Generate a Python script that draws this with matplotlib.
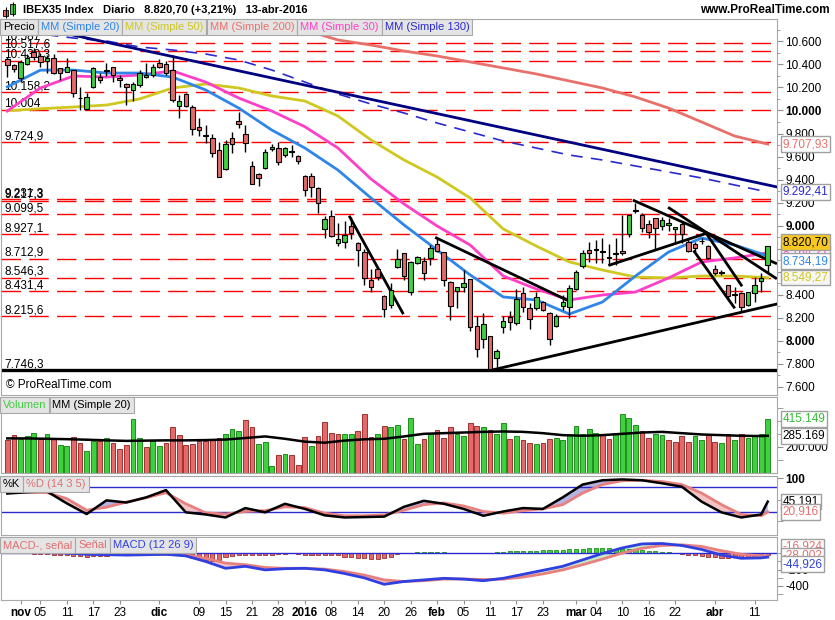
import matplotlib
matplotlib.use("Agg")
import matplotlib.pyplot as plt
import numpy as np

# ---- price data, one bar per trading day, 29-oct-2015 .. 13-abr-2016
opens = [10450, 10395, 10280, 10403, 10511, 10473, 10432, 10453, 10366, 10337,
         10351, 10110, 10010, 10206, 10293, 10345, 10380, 10279, 10227, 10178,
         10221, 10293, 10308, 10409, 10404, 10351, 10041, 10143, 10027, 9857,
         9785, 9764, 9657, 9492, 9758, 9909, 9796, 9518, 9446, 9503,
         9663, 9671, 9613, 9645, 9605, 9431, 9431, 9324, 8968, 9087,
         8847, 8861, 8997, 8847, 8769, 8528, 8621, 8390, 8311, 8639,
         8760, 8427, 8673, 8694, 8717, 8844, 8769, 8508, 8433, 8470,
         8537, 8129, 8014, 8042, 7849, 8124, 8210, 8158, 8413, 8282,
         8283, 8340, 8245, 8129, 8306, 8291, 8447, 8650, 8789, 8795,
         8780, 8725, 8760, 8783, 8928, 9130, 9093, 9012, 9064, 8997,
         9003, 8970, 9012, 8861, 8841, 8870, 8823, 8621, 8595, 8485,
         8400, 8413, 8311, 8413, 8520, 8658]
highs = [10464, 10400, 10438, 10490, 10543, 10499, 10482, 10490, 10370, 10453,
         10351, 10206, 10151, 10380, 10325, 10412, 10380, 10308, 10236, 10250,
         10351, 10412, 10404, 10446, 10430, 10481, 10134, 10150, 10047, 9935,
         9874, 9793, 9729, 9744, 9816, 9989, 9874, 9561, 9455, 9663,
         9706, 9724, 9680, 9700, 9610, 9440, 9458, 9338, 9084, 9136,
         9026, 9040, 9078, 8860, 8795, 8624, 8630, 8398, 8500, 8795,
         8766, 8694, 8737, 8731, 8832, 8890, 8769, 8522, 8470, 8615,
         8537, 8216, 8245, 8042, 7927, 8216, 8259, 8447, 8465, 8331,
         8427, 8350, 8254, 8230, 8398, 8482, 8615, 8789, 8861, 8876,
         8890, 8838, 8890, 9093, 9093, 9201, 9113, 9049, 9064, 9078,
         9064, 8990, 9035, 8890, 8861, 8890, 8830, 8659, 8615, 8485,
         8470, 8420, 8425, 8557, 8586, 8823]
lows = [10290, 10330, 10250, 10395, 10438, 10380, 10325, 10320, 10264, 10330,
        10120, 10004, 10004, 10195, 10238, 10300, 10250, 10206, 10047, 10080,
        10206, 10280, 10293, 10370, 10310, 10076, 9935, 10030, 9787, 9778,
        9715, 9599, 9425, 9483, 9634, 9845, 9642, 9359, 9344, 9494,
        9648, 9527, 9600, 9599, 9532, 9257, 9248, 9113, 8890, 8904,
        8823, 8809, 8882, 8652, 8485, 8422, 8526, 8210, 8283, 8630,
        8528, 8398, 8665, 8528, 8659, 8769, 8476, 8181, 8283, 8427,
        8089, 7857, 7935, 7746, 7771, 8071, 8094, 8138, 8254, 8100,
        8270, 8260, 7964, 8120, 8268, 8196, 8441, 8630, 8687, 8673,
        8673, 8659, 8659, 8745, 8904, 9110, 8948, 8893, 8789, 8962,
        8951, 8847, 8847, 8771, 8760, 8840, 8710, 8572, 8575, 8357,
        8326, 8254, 8305, 8340, 8427, 8600]
closes = [10393, 10360, 10418, 10455, 10460, 10424, 10453, 10323, 10328, 10375,
          10149, 10105, 10119, 10366, 10264, 10351, 10308, 10264, 10206, 10227,
          10328, 10308, 10380, 10380, 10323, 10091, 10082, 10039, 9836, 9830,
          9778, 9634, 9425, 9709, 9709, 9880, 9715, 9359, 9411, 9637,
          9680, 9550, 9671, 9642, 9561, 9310, 9333, 9194, 9055, 8910,
          8882, 8919, 8933, 8789, 8543, 8465, 8551, 8274, 8442, 8711,
          8563, 8687, 8731, 8586, 8804, 8780, 8528, 8305, 8465, 8499,
          8118, 7927, 8144, 7753, 7915, 8176, 8167, 8361, 8291, 8187,
          8384, 8268, 8014, 8216, 8340, 8456, 8600, 8760, 8760, 8789,
          8775, 8722, 8755, 8760, 9093, 9135, 8977, 8948, 8977, 9049,
          9026, 8986, 8925, 8783, 8804, 8865, 8717, 8592, 8592, 8390,
          8398, 8291, 8421, 8485, 8548, 8821]

# volume in thousands
volume = [253, 292, 259, 284, 305, 259, 297, 259, 215, 208,
          274, 233, 169, 246, 246, 266, 233, 182, 215, 412,
          266, 198, 246, 208, 233, 351, 292, 215, 223, 246,
          246, 259, 266, 297, 335, 322, 406, 351, 223, 236,
          55, 139, 146, 139, 62, 274, 208, 284, 389, 305,
          297, 297, 297, 325, 450, 274, 297, 363, 350, 368,
          259, 419, 223, 260, 300, 330, 270, 350, 300, 280,
          380, 360, 350, 330, 300, 380, 260, 280, 250, 230,
          220, 230, 260, 270, 250, 300, 360, 300, 340, 310,
          300, 260, 310, 450, 420, 370, 320, 270, 300, 290,
          250, 240, 280, 240, 280, 250, 300, 240, 230, 300,
          250, 300, 270, 280, 300, 415]

# moving averages, read every 5 bars
ma_idx = list(range(0, 116, 5))
ma20 = [10205, 10350, 10351, 10325, 10325, 10290, 10178, 10021, 9830, 9674, 9483, 9240,
        9006, 8789, 8572, 8381, 8355, 8233, 8337, 8563, 8771, 8893, 8832, 8737]
ma30 = [9995, 10195, 10299, 10290, 10308, 10343, 10247, 10108, 9995, 9859, 9674, 9405,
        9188, 8997, 8832, 8563, 8450, 8355, 8398, 8424, 8546, 8685, 8720, 8764]
ma50 = [9998, 10015, 10030, 10047, 10100, 10195, 10230, 10195, 10126, 10082, 9952, 9744,
        9570, 9422, 9240, 8971, 8823, 8685, 8615, 8554, 8546, 8563, 8563, 8549]
ma130 = [10720, 10664, 10629, 10603, 10551, 10525, 10490, 10438, 10351, 10247, 10143, 10056,
         9978, 9891, 9813, 9735, 9674, 9613, 9570, 9518, 9466, 9414, 9353, 9292]
ma200_idx = list(range(45, 116, 5))
ma200 = [10698, 10612, 10568, 10516, 10473, 10421, 10369, 10317, 10256, 10195,
         10117, 10021, 9900, 9778, 9708]

# oscillators, read every 3 bars (+ last bar)
osc_idx = list(range(0, 115, 3)) + [115]
vol_ma = [265, 265, 262, 259, 255, 250, 246, 248, 250, 250, 252, 256, 268, 280, 262, 240,
          232, 248, 258, 262, 280, 300, 305, 310, 315, 318, 315, 305, 290, 285, 290, 300,
          310, 315, 305, 295, 290, 285, 283, 285]
stoch_k = [64, 67, 69, 41, 16, 48, 43, 55, 72, 20, 15, 8, 30, 20, 40, 28, 13, 8, 9, 10,
           33, 47, 40, 28, 12, 22, 30, 28, 55, 85, 95, 97, 95, 88, 80, 45, 20, 8, 15, 45]
stoch_d = [67, 67, 66, 52, 25, 32, 44, 54, 66, 40, 19, 16, 22, 24, 33, 31, 18, 12, 12, 14,
           25, 38, 42, 35, 22, 18, 24, 28, 38, 65, 85, 94, 95, 92, 85, 65, 38, 15, 12, 21]
macd = [30, 25, 15, 5, -10, -15, -20, -15, -10, -30, -100, -185, -160, -205, -190, -185,
        -205, -250, -305, -385, -350, -330, -310, -320, -340, -310, -260, -210, -160, -80,
        0, 70, 120, 125, 100, 50, -20, -60, -55, -45]
signal = [40, 35, 25, 15, 0, -10, -15, -15, -12, -18, -60, -120, -140, -175, -185, -185,
          -195, -225, -270, -330, -350, -340, -320, -318, -325, -320, -295, -255, -205, -140,
          -70, 5, 65, 100, 108, 88, 35, -10, -30, -28]
macd_hist = [8, 6, 5, 3, -5, -8, -10, -15, -20, -25, -30, -35, -40,
             -35, -30, -30, -25, -25, -25, -20, -20, -20, -10, -5, 0,
             -10, -15, -25, -60, -70, -80, -90, -85, -50, -30, -25, -25, -20, -25, -25, -20,
             -10, -5, 0, -5, -15, -20, -20, -25, -20, -20,
             -40, -50, -55, -60, -70, -65, -60, -50, -10, 5, 10, 15,
             20, 20, 18, 15, 12, 10, 12, 10, 8, 10, 12, 15, 20, 25, 28, 30, 32, 35,
             40, 40, 40, 45, 50, 55, 60, 65, 65, 65, 65, 60, 60, 55, 50, 40, 30, 25, 20, 15,
             5, -5, -15, -25, -35, -45, -50, -55, -55, -50, -45, -40, -30, -25, -17]

# support / resistance levels
levels = [10587, 10517.6, 10430.3, 10158.2, 10004, 9724.9, 9231.3, 9217.3, 9099.5,
          8927.1, 8712.9, 8546.3, 8431.4, 8215.6]
level_labels = ["10.587", "10.517,6", "10.430,3", "10.158,2", "10.004", "9.724,9",
                "9.231,3", "9.217,3", "9.099,5", "8.927,1", "8.712,9", "8.546,3",
                "8.431,4", "8.215,6"]
feb_low = 7746.3

# trend lines: (i0, p0, i1, p1)
navy_line = (-1, 10790, 116.4, 9336)
trend_lines = [(51.8, 9075, 59.8, 8242), (64.9, 8893, 84.6, 8355), (73.3, 7747, 116.4, 8320),
               (91.1, 8658, 105.7, 8933), (94.8, 9217, 116.2, 8674), (100.1, 9153, 116.2, 8545),
               (103.9, 8775, 109.9, 8292), (105.7, 8933, 111, 8484)]

xtick_pos = [2, 5, 9, 13, 17, 23, 29, 33, 37, 41, 45, 49, 53, 57, 61, 65, 69, 73, 77, 81,
             86, 89, 93, 97, 101, 107, 113]
xtick_lab = ["nov", "05", "11", "17", "23", "dic", "09", "15", "21", "28", "2016", "08", "14",
             "20", "26", "feb", "05", "11", "17", "23", "mar", "04", "10", "16", "22", "abr", "11"]
bold_lab = {"nov", "dic", "2016", "feb", "mar", "abr"}

# ---- colours
GREEN = "#3fcf3f"
RED = "#e46a6a"
C20 = "#2e86e8"
C30 = "#ff3fc8"
C50 = "#cfc820"
C200 = "#e8706a"
C130 = "#2a2ad0"
GRID = "#a8a8a8"
FS = 8

W, H = 835, 620
plt.rcParams["font.family"] = ["Liberation Sans", "DejaVu Sans"]
fig = plt.figure(figsize=(W / 100, H / 100), dpi=100)


def panel(top, bottom):
    ax = fig.add_axes([1 / W, 1 - bottom / H, 776 / W, (bottom - top) / H])
    ax.set_xlim(-0.95, 116.4)
    ax.yaxis.tick_right()
    ax.tick_params(axis="y", direction="out", length=4, color="#909090", labelsize=FS + 0.5, pad=2)
    ax.tick_params(axis="x", bottom=False, labelbottom=False)
    for s in ax.spines.values():
        s.set_color(GRID)
    return ax


ax_p = panel(19, 395)
ax_v = panel(397, 473)
ax_s = panel(476, 535)
ax_m = panel(537, 600)

n = len(closes)
idx = np.arange(n)
o = np.array(opens, float)
c = np.array(closes, float)
hi = np.array(highs, float)
lo = np.array(lows, float)

# ---- price panel
ax_p.set_ylim(7530, 10794)
for lv in levels:
    ax_p.axhline(lv, color="#ff0000", lw=1.0, ls=(0, (14, 6)), zorder=1)
for lv, lb in zip(levels, level_labels):
    ax_p.text(0.004, lv, lb, transform=ax_p.get_yaxis_transform(), fontsize=FS + 0.5,
              va="bottom", ha="left", zorder=2)
ax_p.axhline(feb_low, color="black", lw=2.4, zorder=2)
ax_p.text(0.004, feb_low, "7.746,3", transform=ax_p.get_yaxis_transform(), fontsize=FS + 0.5,
          va="bottom", ha="left")

ax_p.plot(ma200_idx, ma200, color=C200, lw=2, zorder=3)
ax_p.plot(ma_idx, ma130, color=C130, lw=1.2, ls=(0, (7, 5)), zorder=3)
ax_p.plot([navy_line[0], navy_line[2]], [navy_line[1], navy_line[3]], color="#000080", lw=2, zorder=3)
ax_p.plot(ma_idx, ma50, color=C50, lw=2, zorder=3)
ax_p.plot(ma_idx, ma30, color=C30, lw=2, zorder=3)
ax_p.plot(ma_idx, ma20, color=C20, lw=2, zorder=3)
for i0, p0, i1, p1 in trend_lines:
    ax_p.plot([i0, i1], [p0, p1], color="black", lw=2, zorder=4)

up = c >= o
body_lo = np.minimum(o, c)
body_h = np.maximum(np.abs(c - o), 6)
ax_p.vlines(idx, lo, hi, color="black", lw=1, zorder=5)
ax_p.bar(idx, body_h, bottom=body_lo, width=0.68,
         color=np.where(up, GREEN, RED), edgecolor="black", lw=0.8, zorder=6)

yt = list(range(7600, 10601, 200))
hidden = {8600, 8800}
ax_p.set_yticks(yt)
ax_p.set_yticks(range(7600, 10701, 100), minor=True)
ax_p.tick_params(axis="y", which="minor", length=2, color="#909090")
ax_p.set_yticklabels(["" if v in hidden else f"{v // 1000}.{v % 1000:03d}" for v in yt])
for lab, v in zip(ax_p.get_yticklabels(), yt):
    if v % 1000 == 0:
        lab.set_fontweight("bold")
ax_p.text(0.006, 0.018, "\u00a9 ProRealTime.com", transform=ax_p.transAxes, fontsize=FS + 0.5)

# ---- volume panel
vol = np.array(volume) * 1000
vcol = [RED] + [GREEN if closes[k] >= closes[k - 1] else RED for k in range(1, n)]
vedge = ["#a03030" if col == RED else "#1f8f1f" for col in vcol]
ax_v.bar(idx, vol, width=0.72, color=vcol, edgecolor=vedge, lw=0.7)
ax_v.plot(osc_idx, np.array(vol_ma) * 1000, color="black", lw=1.8)
ax_v.set_ylim(0, 582000)
ax_v.set_yticks([200000])
ax_v.set_yticklabels(["200.000"])
ax_v.set_yticks([100000, 300000, 400000, 500000], minor=True)
ax_v.tick_params(axis="y", which="minor", length=4, color="#909090")

# ---- stochastic panel
k_arr = np.array(stoch_k, float)
d_arr = np.array(stoch_d, float)
ax_s.fill_between(osc_idx, k_arr, d_arr, where=k_arr >= d_arr, interpolate=True,
                  color="#b4b4e4", lw=0)
ax_s.fill_between(osc_idx, k_arr, d_arr, where=k_arr < d_arr, interpolate=True,
                  color="#f4c4c4", lw=0)
ax_s.axhline(80, color="#2a2ad0", lw=1)
ax_s.axhline(20, color="#2a2ad0", lw=1)
ax_s.plot(osc_idx, d_arr, color="#e88080", lw=2)
ax_s.plot(osc_idx, k_arr, color="black", lw=1.8)
ax_s.set_ylim(-33, 105)
ax_s.set_yticks([100])
ax_s.set_yticklabels(["100"], fontweight="bold")
ax_s.set_yticks([0, 50], minor=True)
ax_s.tick_params(axis="y", which="minor", length=4, color="#909090")

# ---- MACD panel
m_arr = np.array(macd, float)
s_arr = np.array(signal, float)
hcol = [GREEN if v >= 0 else RED for v in macd_hist]
hedge = ["#1f8f1f" if v >= 0 else "#a03030" for v in macd_hist]
ax_m.bar(idx, macd_hist, width=0.62, color=hcol, edgecolor=hedge, lw=0.6, zorder=2)
ax_m.fill_between(osc_idx, m_arr, s_arr, where=m_arr >= s_arr, interpolate=True,
                  color="#c4ecc4", lw=0, zorder=1)
ax_m.fill_between(osc_idx, m_arr, s_arr, where=m_arr < s_arr, interpolate=True,
                  color="#f4c4c4", lw=0, zorder=1)
ax_m.axhline(0, color="#2a2ad0", lw=1, zorder=3)
ax_m.plot(osc_idx, s_arr, color="#e88080", lw=2, zorder=4)
ax_m.plot(osc_idx, m_arr, color="#3040e0", lw=2, zorder=5)
ax_m.set_ylim(-581, 206)
ax_m.set_yticks([-200, -400])
ax_m.set_yticklabels(["-200", "-400"])
ax_m.set_yticks([0, -100, -300, -500], minor=True)
ax_m.tick_params(axis="y", which="minor", length=4, color="#909090")

ax_m.set_xticks(xtick_pos)
ax_m.set_xticklabels(xtick_lab)
ax_m.tick_params(axis="x", bottom=True, labelbottom=True, direction="out", length=3,
                 color="#909090", labelsize=FS + 0.5, pad=2)
for lab in ax_m.get_xticklabels():
    if lab.get_text() in bold_lab:
        lab.set_fontweight("bold")


# ---- value tags on the right
def tag(ax, value, text, col, fc="white", dy=0):
    ax.annotate(text, xy=(1, value), xycoords=ax.get_yaxis_transform(),
                xytext=(4, dy), textcoords="offset points", fontsize=FS + 0.5, color=col,
                va="center", ha="left", annotation_clip=False, zorder=20,
                bbox=dict(boxstyle="square,pad=0.15", fc=fc, ec="#a0a0a0", lw=1))


tag(ax_p, 9707.93, "9.707,93", C200)
tag(ax_p, 9292.41, "9.292,41", C130)
tag(ax_p, 8764.21, "8.764,21", C30)
tag(ax_p, 8734.19, "8.734,19", C20, dy=-3.5)
tag(ax_p, 8820.70, "8.820,70", "black", fc="#f8c820", dy=3)
tag(ax_p, 8549.27, "8.549,27", C50, fc="#f6f6f6")
tag(ax_v, 415149, "415.149", "#33bb33")
tag(ax_v, 285169, "285.169", "black")
tag(ax_s, 45.191, "45,191", "black")
tag(ax_s, 20.916, "20,916", "#e07070")
tag(ax_m, -16.924, "-16,924", "#e07070", dy=6)
tag(ax_m, -28.002, "-28,002", "#e07070", dy=0)
tag(ax_m, -44.926, "-44,926", "#3040e0", dy=-5)

# ---- header and legend buttons
fig.text(23 / W, 1 - 10 / H, "IBEX35 Index   Diario   8.820,70 (+3,21%)   13-abr-2016",
         fontsize=FS, fontweight="bold", va="center", ha="left")
fig.text(830 / W, 1 - 10 / H, "www.ProRealTime.com", fontsize=FS + 0.5, fontweight="bold",
         va="center", ha="right")
ax_icon = fig.add_axes([2 / W, 1 - 20 / H, 14 / W, 18 / H])
ax_icon.set_axis_off()
ax_icon.set_xlim(0, 2)
ax_icon.set_ylim(0, 10)
ax_icon.vlines([0.5, 1.5], [1, 2], [7, 10], color="black", lw=0.8)
ax_icon.bar([0.5, 1.5], [3.5, 5.5], bottom=[2, 3.5], width=0.7,
            color=[RED, GREEN], edgecolor="black", lw=0.6)

renderer = fig.canvas.get_renderer()


def legend_row(items, y_px):
    x = 3
    for txt, col in items:
        t = fig.text(x / W, 1 - y_px / H, txt, color=col, fontsize=FS, va="center",
                     ha="left", zorder=30,
                     bbox=dict(boxstyle="square,pad=0.25", fc="#e4e4e4", ec="#a8a8a8", lw=0.8))
        bb = t.get_window_extent(renderer)
        x = bb.x1 + 6


legend_row([("Precio", "black"), ("MM (Simple 20)", C20), ("MM (Simple 50)", C50),
            ("MM (Simple 200)", C200), ("MM (Simple 30)", C30), ("MM (Simple 130)", C130)], 27)
legend_row([("Volumen", "#44cc44"), ("MM (Simple 20)", "black")], 405)
legend_row([("%K", "black"), ("%D (14 3 5)", "#e07070")], 484)
legend_row([("MACD-, se\u00f1al", "#e07070"), ("Se\u00f1al", "#e07070"),
            ("MACD (12 26 9)", "#3040e0")], 545)

fig.savefig("out.png", dpi=100)
